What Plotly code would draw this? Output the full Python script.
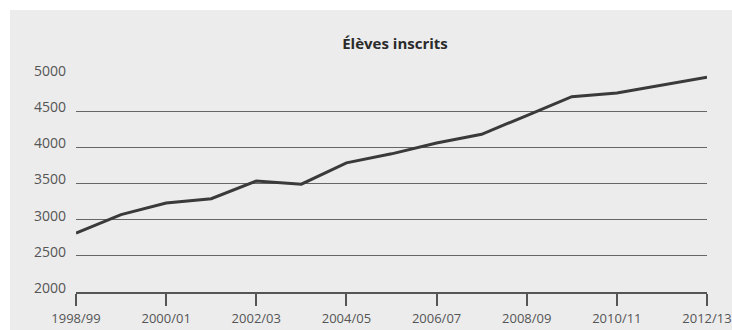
import plotly.graph_objects as go

# School years and enrolled pupils
years = ["1998/99", "1999/00", "2000/01", "2001/02", "2002/03", "2003/04",
         "2004/05", "2005/06", "2006/07", "2007/08", "2008/09", "2009/10",
         "2010/11", "2011/12", "2012/13"]
eleves = [2815, 3070, 3230, 3290, 3535, 3490, 3785, 3910, 4060, 4180,
          4440, 4700, 4750, 4860, 4970]

tick_years = ["1998/99", "2000/01", "2002/03", "2004/05", "2006/07",
              "2008/09", "2010/11", "2012/13"]
y_ticks = [2000, 2500, 3000, 3500, 4000, 4500, 5000]

W, H = 732, 330
L, R, T, B = 76, 25, 75, 38
pw, ph = W - L - R, H - T - B

fig = go.Figure()
fig.add_trace(go.Scatter(
    x=list(range(len(years))), y=eleves, mode="lines",
    line=dict(color="#3a3a3a", width=3),
    hoverinfo="skip", showlegend=False,
))

# grey paper panel, inset from the top and left edges
fig.add_shape(type="rect", xref="paper", yref="paper",
              x0=(10 - L) / pw, x1=(W - L + 5) / pw,
              y0=-(B + 5) / ph, y1=(H - 10 - B) / ph,
              fillcolor="#ececec", line_width=0, layer="below")

fig.update_layout(
    width=W, height=H,
    margin=dict(l=L, r=R, t=T, b=B, pad=0, autoexpand=False),
    paper_bgcolor="white", plot_bgcolor="rgba(0,0,0,0)",
    font=dict(family="Open Sans", color="#555555", size=14),
    title=dict(text="<b>Élèves inscrits</b>", x=395 / W, xanchor="center",
               y=1 - 44 / H, yanchor="middle",
               font=dict(size=15, color="#2a2a2a", family="Open Sans")),
    xaxis=dict(
        range=[0, len(years) - 1],
        tickmode="array",
        tickvals=[years.index(t) for t in tick_years],
        ticktext=tick_years,
        showgrid=False, zeroline=False, automargin=False,
        showline=True, linecolor="#555555", linewidth=1.5,
        ticks="outside", ticklen=12, tickwidth=1.5, tickcolor="#555555",
        ticklabelstandoff=2,
        tickfont=dict(size=13, color="#555555"),
    ),
    yaxis=dict(
        range=[2000, 5000],
        tickmode="array", tickvals=y_ticks,
        showgrid=True, gridcolor="#666666", gridwidth=1.2,
        zeroline=False, showline=False, automargin=False,
        ticks="", ticklabelstandoff=9, ticklabelshift=-4,
        tickfont=dict(size=14, color="#555555"),
    ),
)

fig.write_html("out.html")
